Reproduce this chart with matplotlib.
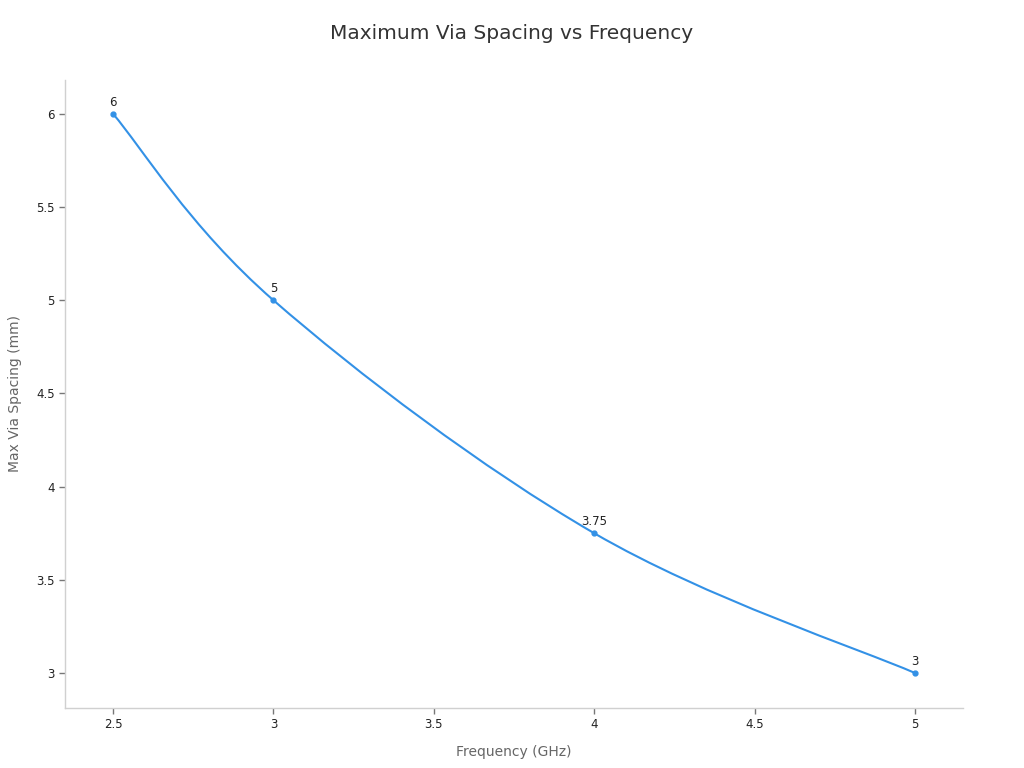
import matplotlib
matplotlib.use('Agg')
import matplotlib.pyplot as plt
from matplotlib.path import Path
from matplotlib.patches import PathPatch

freq_ghz = [2.5, 3, 4, 5]
max_spacing_mm = [6, 5, 3.75, 3]
point_labels = ['6', '5', '3.75', '3']
x_ticks = [2.5, 3, 3.5, 4, 4.5, 5]
x_tick_labels = ['2.5', '3', '3.5', '4', '4.5', '5']
y_ticks = [3, 3.5, 4, 4.5, 5, 5.5, 6]
y_tick_labels = ['3', '3.5', '4', '4.5', '5', '5.5', '6']

LINE = '#3391e6'
AXIS = '#d0d0d0'
TEXT = '#333333'


def smooth_path(xs, ys, k=0.35):
    # cubic bezier through the data points, control points from neighbours
    verts = [(xs[0], ys[0])]
    codes = [Path.MOVETO]
    n = len(xs)
    for i in range(n - 1):
        x0, y0 = xs[max(i - 1, 0)], ys[max(i - 1, 0)]
        x1, y1 = xs[i], ys[i]
        x2, y2 = xs[i + 1], ys[i + 1]
        x3, y3 = xs[min(i + 2, n - 1)], ys[min(i + 2, n - 1)]
        c1 = (x1 + k * (x2 - x0) / 2, y1 + k * (y2 - y0) / 2)
        c2 = (x2 - k * (x3 - x1) / 2, y2 - k * (y3 - y1) / 2)
        verts += [c1, c2, (x2, y2)]
        codes += [Path.CURVE4] * 3
    return Path(verts, codes)


fig = plt.figure(figsize=(10.24, 7.68), dpi=100)
ax = fig.add_axes([65 / 1024, 60 / 768, 898 / 1024, 628 / 768])

ax.add_patch(PathPatch(smooth_path(freq_ghz, max_spacing_mm), facecolor='none',
                       edgecolor=LINE, linewidth=1.5, zorder=2))
ax.plot(freq_ghz, max_spacing_mm, linestyle='none', marker='o', markersize=3.5,
        color=LINE, zorder=3)
for x, y, lab in zip(freq_ghz, max_spacing_mm, point_labels):
    ax.annotate(lab, (x, y), xytext=(0, 3.5), textcoords='offset points',
                ha='center', va='bottom', fontsize=8.5, color='#222222')

ax.set_xlim(2.35, 5.15)
ax.set_ylim(2.812, 6.182)
ax.set_xticks(x_ticks)
ax.set_xticklabels(x_tick_labels)
ax.set_yticks(y_ticks)
ax.set_yticklabels(y_tick_labels)

for side in ['top', 'right']:
    ax.spines[side].set_visible(False)
for side in ['left', 'bottom']:
    ax.spines[side].set_color(AXIS)
    ax.spines[side].set_linewidth(1)
ax.tick_params(axis='both', colors='#777777', labelcolor='#222222', labelsize=8.5,
               length=4, width=1)
ax.tick_params(axis='x', pad=3)

ax.set_xlabel('Frequency (GHz)', fontsize=10, color='#666666', labelpad=10.5)
ax.set_ylabel('Max Via Spacing (mm)', fontsize=10, color='#666666', labelpad=10)
fig.suptitle('Maximum Via Spacing vs Frequency', fontsize=14.5, color=TEXT,
             y=1 - 24 / 768, va='top')

fig.savefig('out.png', dpi=100)
